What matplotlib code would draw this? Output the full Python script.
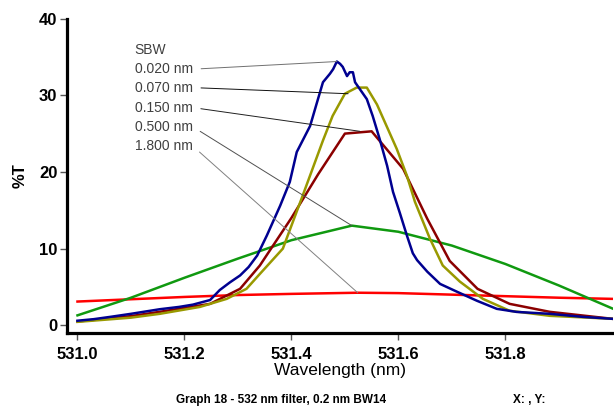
import matplotlib
matplotlib.use('Agg')
import matplotlib.pyplot as plt

plt.rcParams['font.family'] = ['Liberation Sans', 'DejaVu Sans']

# SBW 0.020 nm (blue)
wl_020 = [531.000, 531.030, 531.061, 531.100, 531.154, 531.190, 531.216, 531.248,
          531.266, 531.285, 531.304, 531.320, 531.336, 531.354, 531.379, 531.397,
          531.410, 531.435, 531.448, 531.459, 531.472, 531.478, 531.485, 531.491,
          531.496, 531.504, 531.509, 531.515, 531.519, 531.528, 531.541, 531.552,
          531.565, 531.579, 531.590, 531.603, 531.616, 531.627, 531.635, 531.654,
          531.678, 531.709, 531.747, 531.784, 531.821, 531.883, 531.945, 532.000]
t_020 = [0.6, 0.8, 1.1, 1.5, 2.1, 2.4, 2.7, 3.3,
         4.6, 5.6, 6.5, 7.6, 9.1, 11.7, 15.6, 18.7,
         22.6, 26.0, 29.1, 31.7, 32.8, 33.4, 34.4, 34.1,
         33.7, 32.5, 33.0, 33.0, 31.7, 30.8, 29.5, 27.3,
         24.3, 20.8, 17.4, 14.6, 11.7, 9.4, 8.5, 7.0,
         5.4, 4.4, 3.2, 2.15, 1.75, 1.5, 1.1, 0.85]

# SBW 0.070 nm (olive)
wl_070 = [531.000, 531.100, 531.154, 531.229, 531.279, 531.316, 531.341, 531.384,
          531.421, 531.459, 531.477, 531.500, 531.522, 531.541, 531.560, 531.597,
          531.616, 531.631, 531.659, 531.683, 531.715, 531.758, 531.808, 531.883, 532.000]
t_070 = [0.45, 1.0, 1.5, 2.4, 3.45, 4.76, 6.7, 10.0,
         16.9, 24.1, 27.3, 30.2, 31.0, 31.0, 28.8, 23.0,
         19.5, 16.1, 11.3, 7.8, 5.7, 3.45, 1.9, 1.24, 0.85]

# SBW 0.150 nm (dark red)
wl_150 = [531.000, 531.100, 531.154, 531.248, 531.304, 531.341, 531.400, 531.450,
          531.500, 531.550, 531.609, 531.654, 531.696, 531.748, 531.808, 531.883, 532.000]
t_150 = [0.5, 1.2, 1.76, 2.8, 4.76, 7.8, 14.0, 19.7,
         25.0, 25.3, 20.4, 13.9, 8.4, 4.76, 2.8, 1.76, 0.85]

# SBW 0.500 nm (green)
wl_500 = [531.0, 531.1, 531.2, 531.3, 531.4, 531.513, 531.6, 531.7, 531.8, 531.9, 532.0]
t_500 = [1.3, 3.6, 6.2, 8.7, 11.1, 13.0, 12.2, 10.4, 8.0, 5.2, 2.2]

# SBW 1.800 nm (red)
wl_1800 = [531.0, 531.1, 531.2, 531.3, 531.4, 531.524, 531.6, 531.7, 531.8, 531.9, 532.0]
t_1800 = [3.1, 3.4, 3.7, 3.95, 4.1, 4.25, 4.2, 4.0, 3.8, 3.6, 3.45]

labels = ['0.020 nm', '0.070 nm', '0.150 nm', '0.500 nm', '1.800 nm']
# point on each curve where the leader line ends
callout_x = [531.485, 531.506, 531.528, 531.513, 531.524]
callout_y = [34.4, 30.2, 25.3, 13.0, 4.25]
label_y = [33.4, 31.0, 28.4, 25.9, 23.4]
leader_colors = ['#707070', '#101010', '#202020', '#505050', '#808080']

xticks = [531.0, 531.2, 531.4, 531.6, 531.8]
yticks = [0, 10, 20, 30, 40]

fig = plt.figure(figsize=(6.14, 4.11), dpi=100)
ax = fig.add_axes([0.1091, 0.1898, 0.889, 0.765])

ax.plot(wl_1800, t_1800, color='#ff0000', lw=1.8)
ax.plot(wl_500, t_500, color='#109910', lw=1.8)
ax.plot(wl_150, t_150, color='#8b0000', lw=1.8)
ax.plot(wl_070, t_070, color='#999900', lw=1.8)
ax.plot(wl_020, t_020, color='#000090', lw=1.8)

ax.text(531.107, 35.9, 'SBW', fontsize=10, color='#404040', va='center', ha='left')
for lab, px, py, ly, lc in zip(labels, callout_x, callout_y, label_y, leader_colors):
    ax.annotate(lab, xy=(px, py), xytext=(531.107, ly), textcoords='data',
                fontsize=10, color='#404040', va='center', ha='left',
                arrowprops=dict(arrowstyle='-', color=lc, lw=0.7,
                                relpos=(1, 0.5), shrinkA=4, shrinkB=0))

ax.set_xlim(530.9804, 532.001)
ax.set_ylim(-1.0, 40)
ax.set_xticks(xticks)
ax.set_xticklabels([f'{v:.1f}' for v in xticks])
ax.set_yticks(yticks)

for side in ['top', 'right']:
    ax.spines[side].set_visible(False)
for side in ['left', 'bottom']:
    ax.spines[side].set_linewidth(2.3)
    ax.spines[side].set_color('black')

ax.tick_params(axis='both', direction='out', length=5, width=1, color='#555555',
               labelsize=12)
ax.tick_params(axis='x', pad=5)
ax.tick_params(axis='y', pad=2)
for lbl in ax.get_xticklabels() + ax.get_yticklabels():
    lbl.set_fontweight('bold')

ax.set_xlabel('Wavelength (nm)', fontsize=12.5, labelpad=1)
ax.set_ylabel('%T', fontsize=12, fontweight='bold', labelpad=8)

fig.text(0.458, 0.026, 'Graph 18 - 532 nm filter, 0.2 nm BW14', fontsize=8.5,
         fontweight='bold', ha='center', va='center')
fig.text(0.835, 0.026, 'X: , Y:', fontsize=8.5, fontweight='bold', ha='left', va='center')

fig.savefig('out.png', dpi=100)
